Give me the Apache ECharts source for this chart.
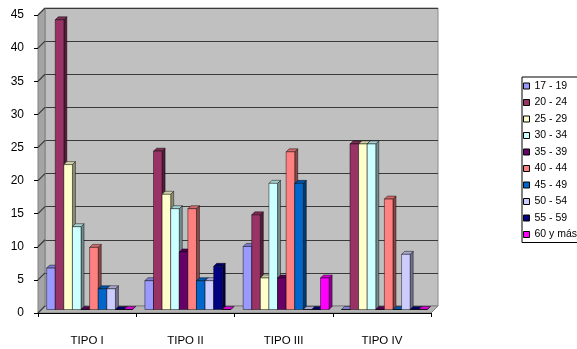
<!DOCTYPE html>
<html>
<head>
<meta charset="utf-8">
<script src="https://cdn.jsdelivr.net/npm/echarts@6/dist/echarts.min.js"></script>
<style>
  html, body { margin: 0; padding: 0; background: #ffffff; }
  #chart { width: 577px; height: 349px; }
</style>
</head>
<body>
<div id="chart"></div>
<script>
// Tipo categories along the x axis
const categories = ['TIPO I', 'TIPO II', 'TIPO III', 'TIPO IV'];

// Age groups (one series each)
const ageGroups = ['17 - 19', '20 - 24', '25 - 29', '30 - 34', '35 - 39',
                   '40 - 44', '45 - 49', '50 - 54', '55 - 59', '60 y más'];

// Percentage per age group, in order TIPO I..IV
const v17_19 = [6.25, 4.35, 9.52, 0];
const v20_24 = [43.75, 23.91, 14.29, 25];
const v25_29 = [21.88, 17.39, 4.76, 25];
const v30_34 = [12.5, 15.22, 19.05, 25];
const v35_39 = [0, 8.7, 4.76, 0];
const v40_44 = [9.38, 15.22, 23.81, 16.67];
const v45_49 = [3.13, 4.35, 19.05, 0];
const v50_54 = [3.13, 4.35, 0, 8.33];
const v55_59 = [0, 6.52, 0, 0];
const v60_mas = [0, 0, 4.76, 0];

// Y axis ticks
const yTicks = [0, 5, 10, 15, 20, 25, 30, 35, 40, 45];

const seriesValues = [v17_19, v20_24, v25_29, v30_34, v35_39,
                      v40_44, v45_49, v50_54, v55_59, v60_mas];
const palette = ['#9999FF', '#993366', '#FFFFCC', '#CCFFFF', '#660066',
                 '#FF8080', '#0066CC', '#CCCCFF', '#000080', '#FF00FF'];

// 3D depth of the plot box (px) and of each column
const WALL_D = 7;
const BAR_OFF = 3.5;
const BAR_D = 3;

function shade(hex, k) {
  const n = parseInt(hex.slice(1), 16);
  const r = Math.round(((n >> 16) & 255) * k);
  const g = Math.round(((n >> 8) & 255) * k);
  const b = Math.round((n & 255) * k);
  return 'rgb(' + r + ',' + g + ',' + b + ')';
}

function columnRenderer(idx) {
  return function (params, api) {
    const cat = api.value(0);
    const val = api.value(1);
    const top = api.coord([cat, val]);
    const base = api.coord([cat, 0]);
    const band = api.size([1, 0])[0];
    const slot = band * 0.0875;
    const x0 = top[0] - 5 * slot + idx * slot + BAR_OFF - 1;
    const yT = top[1] - BAR_OFF;
    const yB = base[1] - BAR_OFF;
    const w = slot, d = BAR_D;
    const c = palette[idx];
    const edge = { stroke: 'rgba(0,0,0,0.75)', lineWidth: 0.6 };
    return {
      type: 'group',
      children: [
        { type: 'polygon',
          shape: { points: [[x0 + w, yT], [x0 + w + d, yT - d], [x0 + w + d, yB - d], [x0 + w, yB]] },
          style: Object.assign({ fill: shade(c, 0.55) }, edge) },
        { type: 'polygon',
          shape: { points: [[x0, yT], [x0 + d, yT - d], [x0 + w + d, yT - d], [x0 + w, yT]] },
          style: Object.assign({ fill: shade(c, 0.82) }, edge) },
        { type: 'rect',
          shape: { x: x0, y: yT, width: w, height: Math.max(yB - yT, 0) },
          style: Object.assign({ fill: c }, edge) }
      ]
    };
  };
}

// Side wall and floor of the 3D box
function wallRenderer(params, api) {
  const cs = params.coordSys;
  const xL = cs.x, xR = cs.x + cs.width, yTop = cs.y, yBot = cs.y + cs.height;
  const d = WALL_D;
  const children = [
    { type: 'polygon',
      shape: { points: [[xL, yTop], [xL + d, yTop - d], [xL + d, yBot - d], [xL, yBot]] },
      style: { fill: '#a4a4a4', stroke: '#808080', lineWidth: 1 } },
    { type: 'polygon',
      shape: { points: [[xL, yBot], [xL + d, yBot - d], [xR + d, yBot - d], [xR, yBot]] },
      style: { fill: '#b4b4b4', stroke: '#808080', lineWidth: 1 } }
  ];
  yTicks.forEach(function (v) {
    const y = api.coord([0, v])[1];
    children.push({ type: 'line',
      shape: { x1: xL, y1: y, x2: xL + d, y2: y - d },
      style: { stroke: '#3a3a3a', lineWidth: 1.2 } });
  });
  return { type: 'group', children: children };
}

const font = 'Liberation Sans, Arial, sans-serif';

const series = [{
  type: 'custom',
  name: '__wall',
  xAxisIndex: 0, yAxisIndex: 0,
  silent: true,
  z: 1,
  renderItem: wallRenderer,
  data: [[0, 0]]
}];

ageGroups.forEach(function (name, i) {
  series.push({
    type: 'custom',
    name: name,
    xAxisIndex: 0, yAxisIndex: 0,
    z: 2,
    itemStyle: { color: palette[i], borderColor: '#000', borderWidth: 1 },
    renderItem: columnRenderer(i),
    data: seriesValues[i].map(function (v, k) { return [k, v]; })
  });
});

const chart = echarts.init(document.getElementById('chart'), null, { renderer: 'canvas' });

chart.setOption({
  animation: false,
  backgroundColor: '#ffffff',
  grid: [
    { left: 38, top: 15, width: 393, height: 298 },
    { left: 38 + WALL_D, top: 15 - WALL_D, width: 393, height: 298,
      show: true, backgroundColor: '#c0c0c0', borderColor: '#8a8a8a', borderWidth: 1, z: 0 }
  ],
  xAxis: [
    { type: 'category', gridIndex: 0, data: categories, boundaryGap: true,
      axisLine: { show: true, lineStyle: { color: '#000', width: 1 } },
      axisTick: { show: true, alignWithLabel: false, length: 4, lineStyle: { color: '#000' } },
      axisLabel: { color: '#000', fontFamily: font, fontSize: 11.5, margin: 22 },
      z: 3 },
    { type: 'category', gridIndex: 1, data: categories, show: false }
  ],
  yAxis: [
    { type: 'value', gridIndex: 0, min: 0, max: 45, interval: 5,
      axisLine: { show: false },
      axisTick: { show: true, length: 4, lineStyle: { color: '#000' } },
      axisLabel: { color: '#000', fontFamily: font, fontSize: 12, margin: 14 },
      splitLine: { show: false }, z: 3 },
    { type: 'value', gridIndex: 1, min: 0, max: 45, interval: 5,
      axisLine: { show: false }, axisTick: { show: false }, axisLabel: { show: false },
      splitLine: { show: true, lineStyle: { color: '#3a3a3a', width: 1.2 } } }
  ],
  legend: {
    orient: 'vertical',
    left: 522, top: 77,
    data: ageGroups.map(function (n, i) {
      return { name: n, icon: 'rect', itemStyle: { color: palette[i], borderColor: '#000', borderWidth: 1 } };
    }),
    itemWidth: 6, itemHeight: 6,
    itemGap: 4.5,
    itemTextGap: 2,
    padding: [3, 8, 2, 1],
    borderColor: '#000', borderWidth: 1,
    backgroundColor: '#ffffff',
    selectedMode: false,
    textStyle: { color: '#000', fontFamily: font, fontSize: 10.5, lineHeight: 12 }
  },
  series: series
});
</script>
</body>
</html>
